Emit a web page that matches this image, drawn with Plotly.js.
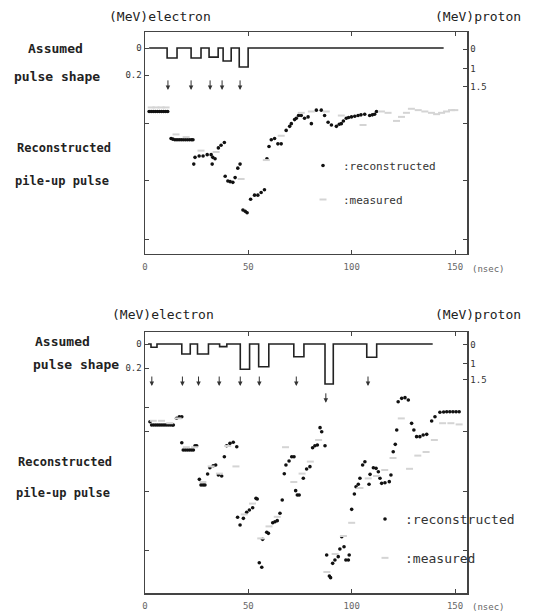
<!DOCTYPE html>
<html><head><meta charset="utf-8">
<script src="https://cdn.plot.ly/plotly-3.0.1.min.js"></script>
<style>html,body{margin:0;padding:0;background:#fff}</style>
</head><body><div id="chart" style="width:534px;height:616px"></div>
<script>
// ---------- data (time in nsec, amplitude in MeV electron) ----------
var xTickVals = [0, 50, 100, 150];
var xTickText = ['0', '50', '100', '150'];

// top panel
var topPulseX = [2, 10.7, 15.5, 22.3, 27.1, 31, 35.4, 37.8, 41.7, 45.6, 49.9, 144.5];
var topPulseY = [0, 0.074, 0, 0.074, 0, 0.067, 0, 0.096, 0, 0.14, 0, 0];
var topArrowX = [11.1, 22.3, 31.5, 37.3, 46.0];
var topArrowY = [0.31, 0.31, 0.31, 0.31, 0.31];
var topRecX = [2,3,4,5,6,7,8,9,10,11,
  12.6,13.5,14.5,15.5,16.5,17.5,18.5,19.5,20.5,21.5,22.5,23.2,
  23.6,24.2,26.2,28.1,30.1,32,32.5,32.8,33.9,35.5,36.8,38.4,
  38.8,40.1,41.2,42.5,43.6,44.9,46.0,47.4,48.5,49.4,
  51.1,53.0,54.6,56.2,57.8,59.0,60.0,61.1,62.7,64.3,65.9,
  68.3,70.0,70.8,72.4,73.2,74.3,75.6,77.2,78.9,80.5,82.9,85.3,86.9,88.6,90.2,92.6,
  94,95.0,96,97.4,98.5,99.9,101.5,103.1,104.5,106.3,108.7,110,111.1,112.0];
var topRecY = [0.47,0.47,0.47,0.47,0.47,0.47,0.47,0.47,0.47,0.47,
  0.67,0.675,0.68,0.68,0.68,0.68,0.68,0.68,0.68,0.68,0.68,0.68,
  0.86,0.81,0.80,0.80,0.79,0.79,0.86,0.81,0.82,0.74,0.72,0.70,
  0.95,0.985,0.99,0.995,0.96,0.89,0.86,1.20,1.21,1.22,
  1.12,1.09,1.09,1.07,1.05,0.82,0.73,0.68,0.67,0.71,0.71,
  0.61,0.58,0.56,0.53,0.52,0.50,0.50,0.52,0.51,0.56,0.46,0.46,0.50,0.55,0.57,0.58,
  0.565,0.56,0.54,0.52,0.515,0.51,0.505,0.50,0.495,0.49,0.50,0.495,0.49,0.47];
var topMeasX = [3,5.3,7.8,10.2,15,19.9,27.1,34.4,46.5,58.7,65.9,75.6,80.5,87.7,95,105.5,
  114.4,117.6,121.7,124.1,126.5,128.9,132.2,135.4,138.6,141.1,143.5,145.9,148.3,149.9];
var topMeasY = [0.44,0.44,0.44,0.44,0.64,0.66,0.76,0.77,0.97,0.83,0.65,0.48,0.47,0.47,0.50,0.57,
  0.47,0.48,0.54,0.51,0.48,0.45,0.46,0.47,0.48,0.49,0.48,0.47,0.46,0.46];

// bottom panel
var botPulseX = [1.5, 2.9, 5.8, 17.8, 21.9, 25.4, 30.7, 36.1, 39.6, 46.1, 50.6, 55.0, 59.9, 72.0, 76.9, 87.1, 91.1, 107.3, 112.1, 139.2];
var botPulseY = [0, 0.027, 0, 0.083, 0, 0.083, 0, 0.022, 0, 0.21, 0, 0.19, 0, 0.106, 0, 0.333, 0, 0.11, 0, 0];
var botArrowX = [3.3, 18.1, 25.9, 35.9, 46.1, 55.3, 73.2, 87.5, 107.9];
var botArrowY = [0.35, 0.35, 0.35, 0.35, 0.35, 0.35, 0.35, 0.49, 0.35];
var botRecX = [2.4,3.2,4.2,5.2,6.2,7.2,8.2,9.2,10.2,11.2,12.2,13.2,13.7,
  15.3,16.6,17.8,17.8,18.5,19.5,20.5,21.5,22.5,23.4,24.2,25.0,
  26.3,27.1,28.1,29.0,30.3,31.4,33.0,34.2,35.5,37.1,
  38.4,39.5,41.1,42.7,44.4,44.8,46.0,47.6,49.2,50.5,52.1,53.7,54.3,
  55.3,56.5,56.9,58.9,59.7,61.8,62.9,64.0,65.3,66.4,
  67.4,68.2,69.7,71.0,72.1,72.9,73.7,74.6,76.6,78.2,79.8,
  81.1,82.2,83.4,84.7,85.5,87.1,
  87.9,89.2,89.8,90.8,91.9,93.5,94.3,95.2,96.3,97.2,98.4,98.8,
  100.0,101.3,102.1,103.2,104.0,105.3,106.4,108.4,108.9,110.5,111.8,112.9,113.7,114.5,116.1,118.2,119.0,
  120.1,121.1,121.8,122.5,124.2,125.8,127.4,
  129.0,130.1,131.4,133.0,134.6,136.3,138.7,140.3,142.7,144.5,146.0,147.5,149.0,150.5,152.0];
var botRecY = [0.648,0.675,0.675,0.675,0.675,0.675,0.675,0.675,0.675,0.675,0.675,0.675,0.675,
  0.619,0.606,0.606,0.823,0.883,0.883,0.883,0.883,0.883,0.883,0.848,0.848,
  1.128,1.175,1.175,1.175,1.083,1.031,1.014,1.008,1.092,1.1,
  0.939,0.848,0.828,0.819,0.856,1.444,1.508,1.453,1.403,1.383,1.364,1.286,1.292,
  1.823,1.861,1.628,1.569,1.578,1.489,1.481,1.472,1.411,1.3,
  1.081,1.008,0.975,0.939,0.939,1.222,1.258,1.258,1.119,1.042,1.022,
  0.864,0.848,0.842,0.697,0.731,0.848,
  1.758,1.933,1.947,1.828,1.8,1.772,1.708,1.606,1.689,1.8,1.8,1.758,
  1.378,1.25,1.189,1.169,1.119,1.008,0.981,1.169,1.086,1.031,1.036,1.064,1.119,1.161,1.156,1.147,1.092,
  0.898,0.836,0.717,0.481,0.453,0.447,0.467,
  0.661,0.717,0.772,0.772,0.758,0.753,0.642,0.606,0.569,0.566,0.564,0.564,0.564,0.564,0.564];
var botMeasX = [4,8,12,16,20,24,28,32,36,40,44,48,52,56,60,64,68,72,76,80,84,88,92,96,100,104,108,112,116,120,124,128,132,136,140,144,148,152];
var botMeasY = [0.64,0.64,0.66,0.62,0.86,0.86,1.15,1.02,1.08,0.85,1.02,1.42,1.33,1.62,1.52,1.44,0.86,1.15,1.08,0.98,0.8,1.9,1.75,1.6,1.49,1.2,1.12,1.1,1.05,0.95,0.62,1.04,0.93,0.9,0.8,0.66,0.66,0.67];

// axis tick labels
var topLeftTickVals = [0, 0.2, 0.556, 0.978, 1.422];
var topLeftTickText = ['0', '0.2', '', '', ''];
var topRightTickVals = [0.007, 0.152, 0.286, 0.556, 0.978, 1.422];
var topRightTickText = ['0', '1', '1.5', '', '', ''];
var botLeftTickVals = [0, 0.2, 0.533, 0.733, 1.225, 1.717];
var botLeftTickText = ['0', '0.2', '', '', '', ''];
var botRightTickVals = [0.008, 0.164, 0.298, 0.733, 1.225, 1.717];
var botRightTickText = ['0', '1', '1.5', '', '', ''];

// ---------- figure ----------
var MONO = 'DejaVu Sans Mono, monospace';
var INK = '#222';
var TICKC = '#666';

function pulseTrace(x, y, xa, ya) {
  return {x: x, y: y, xaxis: xa, yaxis: ya, mode: 'lines', line: {shape: 'hv', color: '#222', width: 1.6},
    showlegend: false, hoverinfo: 'skip'};
}
function anchorTrace(xa, ya) {
  // keeps the right-hand (proton) axis drawn
  return {x: [null], y: [null], xaxis: xa, yaxis: ya, mode: 'markers', showlegend: false, hoverinfo: 'skip'};
}
function recTrace(x, y, xa, ya, lg) {
  return {x: x, y: y, xaxis: xa, yaxis: ya, mode: 'markers', name: ':reconstructed', legend: lg, legendgroup: lg + 'r',
    marker: {color: '#111', size: 3.6, symbol: 'circle'}};
}
function measTrace(x, y, xa, ya, lg) {
  return {x: x, y: y, xaxis: xa, yaxis: ya, mode: 'markers', name: ':measured', legend: lg, legendgroup: lg + 'm',
    marker: {symbol: 'line-ew', size: 5, color: '#d4d4d4', line: {color: '#d4d4d4', width: 2}}};
}

var data = [
  pulseTrace(topPulseX, topPulseY, 'x', 'y'),
  anchorTrace('x', 'y2'),
  recTrace(topRecX, topRecY, 'x', 'y', 'legend'),
  measTrace(topMeasX, topMeasY, 'x', 'y', 'legend'),
  pulseTrace(botPulseX, botPulseY, 'x2', 'y3'),
  anchorTrace('x2', 'y4'),
  recTrace(botRecX, botRecY, 'x2', 'y3', 'legend2'),
  measTrace(botMeasX, botMeasY, 'x2', 'y3', 'legend2')
];

function xAxis(anchor) {
  return {anchor: anchor, domain: [0, 1], range: [0, 155.8], autorange: false,
    tickvals: xTickVals, ticktext: xTickText, ticks: 'inside', ticklen: 4, tickcolor: '#444',
    showline: true, linecolor: '#444', linewidth: 1.5, mirror: 'ticks', ticklabelstandoff: 4,
    showgrid: false, zeroline: false, tickfont: {family: MONO, size: 9, color: TICKC}};
}
function yAxis(anchor, domain, range, tv, tt, side, overlay) {
  var a = {anchor: anchor, range: range, autorange: false, tickvals: tv, ticktext: tt,
    ticks: 'inside', ticklen: 4, tickcolor: '#444', showline: true, linecolor: '#444', linewidth: 1.5,
    showgrid: false, zeroline: false, tickfont: {family: MONO, size: 9, color: '#333'}, side: side};
  if (domain) a.domain = domain;
  if (overlay) a.overlaying = overlay;
  return a;
}

var W = 534, H = 616, L = 145, R = 67, T = 32, B = 23;
function px(x) { return (x - L) / (W - L - R); }
function py(y) { return (H - B - y) / (H - T - B); }

function ann(text, x, y, size, color, weight) {
  return {text: text, x: px(x), y: py(y), xref: 'paper', yref: 'paper', showarrow: false,
    xanchor: 'center', yanchor: 'middle', font: {family: MONO, size: size, color: color || INK, weight: weight || 'normal'}};
}
// pile-up arrows: head at the listed (time, level), drawn by the library in data coordinates
function arrows(xs, ys, xr, yr) {
  return xs.map(function(x, i) {
    return {x: x, y: ys[i], xref: xr, yref: yr, text: '', showarrow: true, ax: 0, ay: -11,
      arrowhead: 2, arrowsize: 0.9, arrowwidth: 1, arrowcolor: '#333', standoff: 0};
  });
}

var annotations = [
  ann('(MeV)electron', 160, 17, 13),
  ann('(MeV)proton', 478, 17, 13),
  ann('Assumed', 55, 48, 13, INK, 'bold'),
  ann('pulse shape', 57, 76, 13, INK, 'bold'),
  ann('Reconstructed', 64, 148, 12, INK, 'bold'),
  ann('pile-up pulse', 62, 181, 12, INK, 'bold'),
  ann('(nsec)', 488, 269, 9, TICKC),
  ann('(MeV)electron', 163, 315, 13),
  ann('(MeV)proton', 478, 315, 13),
  ann('Assumed', 62, 341, 13, INK, 'bold'),
  ann('pulse shape', 76, 365, 13, INK, 'bold'),
  ann('Reconstructed', 65, 462, 12, INK, 'bold'),
  ann('pile-up pulse', 63, 493, 12, INK, 'bold'),
  ann('(nsec)', 488, 607, 9, TICKC)
].concat(arrows(topArrowX, topArrowY, 'x', 'y'), arrows(botArrowX, botArrowY, 'x2', 'y3'));

var layout = {
  width: W, height: H,
  margin: {l: L, r: R, t: T, b: B},
  paper_bgcolor: '#fff', plot_bgcolor: '#fff',
  xaxis: xAxis('y'),
  yaxis: yAxis('x', [0.6043, 1], [1.526, -0.119], topLeftTickVals, topLeftTickText, 'left'),
  yaxis2: yAxis('x', null, [1.526, -0.119], topRightTickVals, topRightTickText, 'right', 'y'),
  xaxis2: xAxis('y3'),
  yaxis3: yAxis('x2', [0, 0.4652], [2.075, -0.1], botLeftTickVals, botLeftTickText, 'left'),
  yaxis4: yAxis('x2', null, [2.075, -0.1], botRightTickVals, botRightTickText, 'right', 'y3'),
  legend: {x: px(303), y: py(151), xanchor: 'left', yanchor: 'top', bgcolor: 'rgba(0,0,0,0)',
    font: {family: MONO, size: 11, color: '#333'}, traceorder: 'grouped', tracegroupgap: 15, itemwidth: 30},
  legend2: {x: px(365), y: py(504), xanchor: 'left', yanchor: 'top', bgcolor: 'rgba(0,0,0,0)',
    font: {family: MONO, size: 13, color: '#333'}, traceorder: 'grouped', tracegroupgap: 19, itemwidth: 30},
  annotations: annotations,
  showlegend: true
};

Plotly.newPlot('chart', data, layout, {displayModeBar: false, staticPlot: true});
</script></body></html>
